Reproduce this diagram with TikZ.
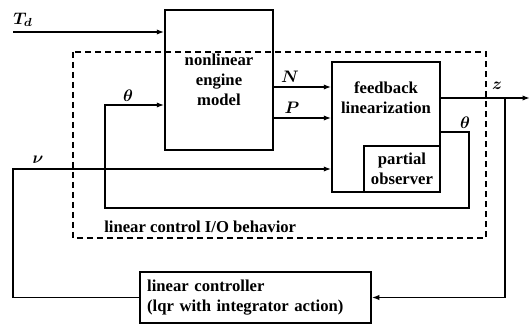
\documentclass[tikz,border=0pt]{standalone}
\usepackage{fontspec}
\setmainfont{Liberation Serif}
\usetikzlibrary{arrows.meta}

\begin{document}
\begin{tikzpicture}[x=0.6pt,y=-0.6pt,line width=0.9pt,>={Latex[length=4.5pt,width=3.2pt]},
    blk/.style={draw,rectangle,inner sep=0pt,align=center,font=\bfseries},
    lbl/.style={font=\boldmath\bfseries,inner sep=0pt}]
  \useasboundingbox (0,0) rectangle (532,325);
  % blocks
  \node[blk,minimum width=64.8pt,minimum height=84pt] (eng) at (219,80) {nonlinear\\engine\\model};
  \node[blk,minimum width=64.8pt,minimum height=78pt] (fb) at (386,127) {};
  \node[font=\bfseries,align=center] (fbtext) at (386,98) {feedback\\linearization};
  \node[blk,minimum width=45.6pt,minimum height=27.6pt] (obs) at (402,169) {partial\\observer};
  \node[blk,minimum width=138.6pt,minimum height=30.6pt,align=left,text width=130pt] (ctrl) at (255.5,297.5)
    {linear controller\\(lqr with integrator action)};
  % dashed frame
  \draw[dashed,dash pattern=on 3.5pt off 2.5pt] (73,52) rectangle (486,238);
  \node[font=\bfseries,anchor=west] (iolbl) at (98,227) {linear control I/O behavior};
  % signals
  \coordinate (td) at (13,32);
  \coordinate (nu) at (13,169);
  \coordinate (zout) at (530,98);
  \draw[->] (td) -- (td -| eng.west);
  \draw[->] (eng.east |- 0,87) -- (fb.west |- 0,87);
  \draw[->] (eng.east |- 0,118) -- (fb.west |- 0,118);
  \draw[->] (fb.east |- 0,132) -- (469,132) -- (469,208) -- (105,208) -- (105,105) -- (eng.west |- 0,105);
  \draw[->] (ctrl.west) -- (13,297.5) -- (nu) -- (fb.west |- nu);
  \draw[->] (fb.east |- zout) -- (zout);
  \draw[->] (505,98) -- (505,297.5) -- (ctrl.east);
  % labels
  \node[lbl] (tdl) at (23,20) {$T_d$};
  \node[lbl] (nul) at (38,160) {$\nu$};
  \node[lbl] (thl) at (128,96) {$\theta$};
  \node[lbl] (nl) at (290,77) {$N$};
  \node[lbl] (pl) at (292,108) {$P$};
  \node[lbl] (thr) at (465,123) {$\theta$};
  \node[lbl] (zl) at (497,86) {$z$};
\end{tikzpicture}
\end{document}
